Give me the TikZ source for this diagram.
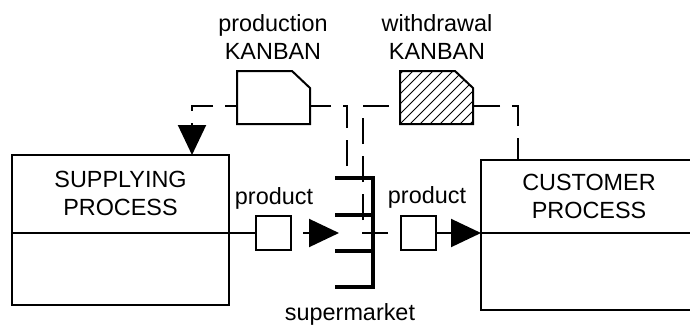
\documentclass[tikz,border=0pt]{standalone}
\usepackage{fontspec}
\setmainfont{Liberation Sans}
\usetikzlibrary{arrows.meta}

\begin{document}
\begin{tikzpicture}[x=1pt, y=-1pt, line width=2pt, line join=miter,
		font=\fontsize{23.4}{28}\selectfont,
		>={Triangle[length=30pt, width=28pt]},
		signal/.style={dash pattern=on 26pt off 12pt},
		txt/.style={align=center, inner sep=0pt},
		productbox/.style={draw, minimum width=35pt, minimum height=34pt, inner sep=0pt},
		shelf/.style={line width=4.5pt}]
	\useasboundingbox (0,0) rectangle (690,324);
	\clip (0,0) rectangle (690,324);
	\path 
		(12,155) coordinate (SPnw)
		(229,305) coordinate (SPse)
		(12,233) coordinate (SPw)
		(192,155) coordinate (SPt)
		(481,160) coordinate (CUnw)
		(481,310) coordinate (CUsw)
		(705,160) coordinate (CUne)
		(705,310) coordinate (CUse)
		(481,233) coordinate (CUw)
		(705,233) coordinate (CUe)
		(518,160) coordinate (CUt)
		(347,178) coordinate (SMt)
		(363,233) coordinate (SMc)
		(388,233) coordinate (SMo)
		(303,233) coordinate (F1)
		(339,233) coordinate (F2)
		(237,106) coordinate (PKw)
		(310,106) coordinate (PKe)
		(400,106) coordinate (WKw)
		(473,106) coordinate (WKe)
	;
	
	% processes
	\draw (SPnw) rectangle (SPse);
	\draw (CUne) -- (CUnw) -- (CUsw) -- (CUse);
	\node[txt] (suptxt) at (120.5,193) {SUPPLYING\\PROCESS};
	\node[txt] (custxt) at (589,196) {CUSTOMER\\PROCESS};
	
	% product flow
	\node[productbox] (P1) at (273.5,233) {};
	\node[productbox] (P2) at (418,233) {};
	\node[txt] (p1txt) at (274,198) {product};
	\node[txt] (p2txt) at (427,197) {product};
	\draw (SPw) -- (P1);
	\draw[->] (F1) -- (F2);
	\draw[->] (P2) -- (CUw);
	\draw (CUw) -- (CUe);
	
	% supermarket
	\draw[shelf] (335,178) -- (373,178) -- (373,287) -- (335,287);
	\foreach \y in {215,251}{
		\draw[shelf] (335,\y) -- (373,\y);
	};
	\node[txt] (smtxt) at (350,314) {supermarket};
	
	% kanbans
	\draw (PKw |- 0,71) -- (292,71) -- (310,88) -- (310,124) -- (237,124) -- cycle;
	\begin{scope}
		\clip (400,71) -- (455,71) -- (473,88) -- (473,124) -- (400,124) -- cycle;
		\foreach \h in {-50,-40,...,70}{
			\draw[line width=0.8pt] (400+\h,124) -- ++(53,-53);
		};
	\end{scope}
	\draw (400,71) -- (455,71) -- (473,88) -- (473,124) -- (400,124) -- cycle;
	\node[txt] (pktxt) at (273,37.5) {production\\KANBAN};
	\node[txt] (wktxt) at (437,37.5) {withdrawal\\KANBAN};
	
	% kanban loops
	\draw[signal, dash phase=26pt] (SMt) |- (PKe);
	\draw[signal, dash phase=14pt, ->] (PKw) -| (SPt);
	\draw[signal, dash phase=4pt] (CUt) |- (WKe);
	\draw[signal] (SMo) -- (SMc) |- (WKw);
	
\end{tikzpicture}
\end{document}
